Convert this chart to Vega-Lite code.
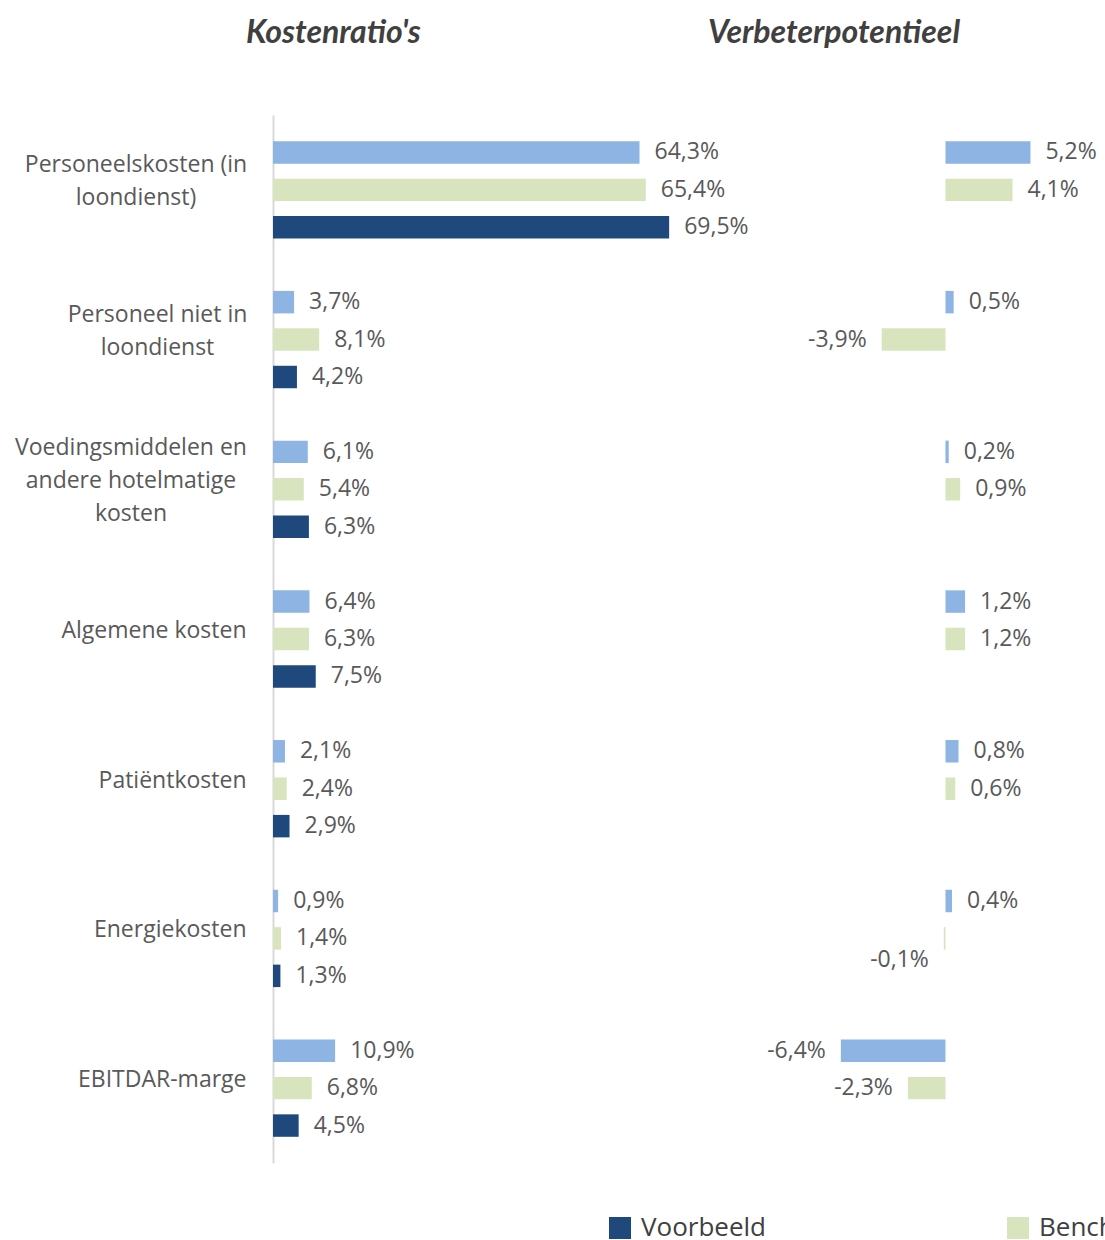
{
  "$schema": "https://vega.github.io/schema/vega-lite/v6.json",
  "background": "white",
  "padding": {"left": 14, "top": 17, "right": 0, "bottom": 0},
  "bounds": "flush",
  "spacing": 81,
  "config": {
    "locale": {"number": {"decimal": ",", "thousands": ".", "grouping": [3], "currency": ["€ ", ""], "minus": "-", "percent": "%"}},
    "view": {"stroke": null},
    "font": "Open Sans"
  },
  "datasets": {
    "kosten": [
      {"kostensoort": "Personeelskosten (in loondienst)", "reeks": "Best practice", "waarde": 0.643},
      {"kostensoort": "Personeelskosten (in loondienst)", "reeks": "Benchmark", "waarde": 0.654},
      {"kostensoort": "Personeelskosten (in loondienst)", "reeks": "Voorbeeld", "waarde": 0.695},
      {"kostensoort": "Personeel niet in loondienst", "reeks": "Best practice", "waarde": 0.037},
      {"kostensoort": "Personeel niet in loondienst", "reeks": "Benchmark", "waarde": 0.081},
      {"kostensoort": "Personeel niet in loondienst", "reeks": "Voorbeeld", "waarde": 0.042},
      {"kostensoort": "Voedingsmiddelen en andere hotelmatige kosten", "reeks": "Best practice", "waarde": 0.061},
      {"kostensoort": "Voedingsmiddelen en andere hotelmatige kosten", "reeks": "Benchmark", "waarde": 0.054},
      {"kostensoort": "Voedingsmiddelen en andere hotelmatige kosten", "reeks": "Voorbeeld", "waarde": 0.063},
      {"kostensoort": "Algemene kosten", "reeks": "Best practice", "waarde": 0.064},
      {"kostensoort": "Algemene kosten", "reeks": "Benchmark", "waarde": 0.063},
      {"kostensoort": "Algemene kosten", "reeks": "Voorbeeld", "waarde": 0.075},
      {"kostensoort": "Patiëntkosten", "reeks": "Best practice", "waarde": 0.021},
      {"kostensoort": "Patiëntkosten", "reeks": "Benchmark", "waarde": 0.024},
      {"kostensoort": "Patiëntkosten", "reeks": "Voorbeeld", "waarde": 0.029},
      {"kostensoort": "Energiekosten", "reeks": "Best practice", "waarde": 0.009},
      {"kostensoort": "Energiekosten", "reeks": "Benchmark", "waarde": 0.014},
      {"kostensoort": "Energiekosten", "reeks": "Voorbeeld", "waarde": 0.013},
      {"kostensoort": "EBITDAR-marge", "reeks": "Best practice", "waarde": 0.109},
      {"kostensoort": "EBITDAR-marge", "reeks": "Benchmark", "waarde": 0.068},
      {"kostensoort": "EBITDAR-marge", "reeks": "Voorbeeld", "waarde": 0.045}
    ],
    "potentieel": [
      {"kostensoort": "Personeelskosten (in loondienst)", "reeks": "Best practice", "waarde": 0.052},
      {"kostensoort": "Personeelskosten (in loondienst)", "reeks": "Benchmark", "waarde": 0.041},
      {"kostensoort": "Personeel niet in loondienst", "reeks": "Best practice", "waarde": 0.005},
      {"kostensoort": "Personeel niet in loondienst", "reeks": "Benchmark", "waarde": -0.039},
      {"kostensoort": "Voedingsmiddelen en andere hotelmatige kosten", "reeks": "Best practice", "waarde": 0.002},
      {"kostensoort": "Voedingsmiddelen en andere hotelmatige kosten", "reeks": "Benchmark", "waarde": 0.009},
      {"kostensoort": "Algemene kosten", "reeks": "Best practice", "waarde": 0.012},
      {"kostensoort": "Algemene kosten", "reeks": "Benchmark", "waarde": 0.012},
      {"kostensoort": "Patiëntkosten", "reeks": "Best practice", "waarde": 0.008},
      {"kostensoort": "Patiëntkosten", "reeks": "Benchmark", "waarde": 0.006},
      {"kostensoort": "Energiekosten", "reeks": "Best practice", "waarde": 0.004},
      {"kostensoort": "Energiekosten", "reeks": "Benchmark", "waarde": -0.001},
      {"kostensoort": "EBITDAR-marge", "reeks": "Best practice", "waarde": -0.064},
      {"kostensoort": "EBITDAR-marge", "reeks": "Benchmark", "waarde": -0.023}
    ]
  },
  "resolve": {"scale": {"x": "independent", "y": "independent", "color": "shared"}, "legend": {"color": "shared"}},
  "hconcat": [
    {
      "width": 427.5,
      "height": 1048,
      "title": {"text": "Kostenratio's", "anchor": "start", "frame": "group", "dx": -27, "font": "Lato", "fontSize": 32, "fontStyle": "italic", "fontWeight": "bold", "color": "#404040", "offset": 65},
      "data": {"name": "kosten"},
      "encoding": {
        "y": {
          "field": "kostensoort", "type": "nominal",
          "sort": ["Personeelskosten (in loondienst)", "Personeel niet in loondienst", "Voedingsmiddelen en andere hotelmatige kosten", "Algemene kosten", "Patiëntkosten", "Energiekosten", "EBITDAR-marge"],
          "scale": {"paddingInner": 0.25, "paddingOuter": 0.125},
          "axis": {
            "title": null, "ticks": false, "tickSize": 0, "labelLimit": 400,
            "labelFont": "Open Sans", "labelFontSize": 23, "labelColor": "#595959", "labelLineHeight": 33,
            "labelBaseline": "middle",
            "labelAlign": {"condition": {"test": "indexof(['Personeelskosten (in loondienst)', 'Personeel niet in loondienst', 'Voedingsmiddelen en andere hotelmatige kosten'], datum.value) >= 0", "value": "center"}, "value": "right"},
            "labelPadding": {"condition": [
              {"test": "datum.value == 'Personeelskosten (in loondienst)'", "value": 137.5},
              {"test": "datum.value == 'Personeel niet in loondienst'", "value": 116},
              {"test": "datum.value == 'Voedingsmiddelen en andere hotelmatige kosten'", "value": 142.5}
            ], "value": 27},
            "labelOffset": {"condition": [
              {"test": "datum.value == 'Voedingsmiddelen en andere hotelmatige kosten'", "value": -41},
              {"test": "datum.value == 'Personeelskosten (in loondienst)' || datum.value == 'Personeel niet in loondienst'", "value": -24.5}
            ], "value": -8},
            "domainColor": "#D9D9D9", "domainWidth": 2,
            "labelExpr": "datum.value == 'Personeelskosten (in loondienst)' ? ['Personeelskosten (in', 'loondienst)'] : datum.value == 'Personeel niet in loondienst' ? ['Personeel niet in', 'loondienst'] : datum.value == 'Voedingsmiddelen en andere hotelmatige kosten' ? ['Voedingsmiddelen en', 'andere hotelmatige', 'kosten'] : datum.value"
          }
        },
        "yOffset": {"field": "reeks", "type": "nominal", "scale": {"domain": ["Best practice", "Benchmark", "Voorbeeld"], "paddingInner": 0.4, "paddingOuter": 0.2}},
        "x": {"field": "waarde", "type": "quantitative", "scale": {"domain": [0, 0.75]}, "axis": null}
      },
      "layer": [
        {
          "mark": {"type": "bar"},
          "encoding": {
            "color": {
              "field": "reeks", "type": "nominal",
              "scale": {"domain": ["Voorbeeld", "Benchmark", "Best practice"], "range": ["#1F497D", "#D7E4BD", "#8EB4E3"]},
              "legend": {
                "title": null, "orient": "none", "direction": "horizontal", "legendX": 334, "legendY": 1100,
                "symbolType": "square", "symbolSize": 484, "symbolStrokeWidth": 0, "symbolOpacity": 1,
                "labelFont": "Open Sans", "labelFontSize": 26, "labelColor": "#404040", "labelOffset": 8,
                "columnPadding": 239, "labelLimit": 400
              }
            }
          }
        },
        {
          "mark": {"type": "text", "align": "left", "baseline": "middle", "dx": 15, "fontSize": 23, "color": "#595959", "font": "Open Sans"},
          "encoding": {"text": {"field": "waarde", "type": "quantitative", "format": ".1%"}}
        }
      ]
    },
    {
      "width": 318.75,
      "height": 1048,
      "title": {"text": "Verbeterpotentieel", "anchor": "start", "frame": "group", "dx": -74, "font": "Lato", "fontSize": 32, "fontStyle": "italic", "fontWeight": "bold", "color": "#404040", "offset": 65},
      "data": {"name": "potentieel"},
      "encoding": {
        "y": {
          "field": "kostensoort", "type": "nominal",
          "sort": ["Personeelskosten (in loondienst)", "Personeel niet in loondienst", "Voedingsmiddelen en andere hotelmatige kosten", "Algemene kosten", "Patiëntkosten", "Energiekosten", "EBITDAR-marge"],
          "scale": {"paddingInner": 0.25, "paddingOuter": 0.125},
          "axis": null
        },
        "yOffset": {"field": "reeks", "type": "nominal", "scale": {"domain": ["Best practice", "Benchmark", "Voorbeeld"], "paddingInner": 0.4, "paddingOuter": 0.2}},
        "x": {"field": "waarde", "type": "quantitative", "scale": {"domain": [-0.1, 0.095]}, "axis": null}
      },
      "layer": [
        {
          "mark": {"type": "bar"},
          "encoding": {"color": {"field": "reeks", "type": "nominal"}}
        },
        {
          "transform": [{"filter": "datum.waarde >= 0"}],
          "mark": {"type": "text", "align": "left", "baseline": "middle", "dx": 15, "fontSize": 23, "color": "#595959", "font": "Open Sans"},
          "encoding": {"text": {"field": "waarde", "type": "quantitative", "format": ".1%"}}
        },
        {
          "transform": [{"filter": "datum.waarde < 0"}],
          "mark": {"type": "text", "align": "right", "baseline": "middle", "dx": -15, "dy": {"expr": "datum.waarde > -0.005 ? 22 : 0"}, "fontSize": 23, "color": "#595959", "font": "Open Sans"},
          "encoding": {"text": {"field": "waarde", "type": "quantitative", "format": ".1%"}}
        }
      ]
    }
  ]
}
